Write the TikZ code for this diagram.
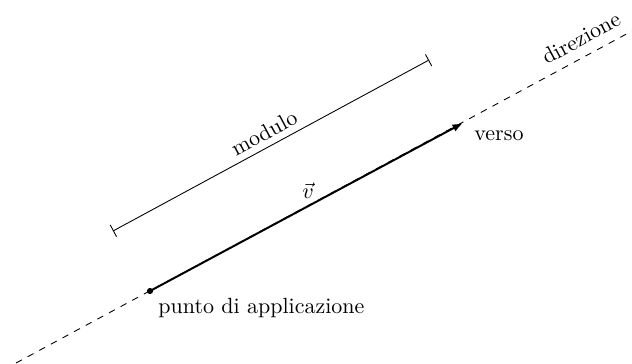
\documentclass[tikz,border=0pt]{standalone}
\usetikzlibrary{arrows.meta}
\begin{document}
\begin{tikzpicture}[x=0.4545pt,y=-0.4545pt,
  dirline/.style={dashed,line width=0.4pt},
  vecline/.style={line width=0.9pt,-{Latex[length=4.8pt,width=3.6pt]}},
  modline/.style={line width=0.4pt,{Bar[width=6pt]}-{Bar[width=6pt]}},
  lbl/.style={inner sep=0pt,font=\normalsize}]
\useasboundingbox (0,0) rectangle (632,363);
\coordinate (D1) at (16,363);
\coordinate (D2) at (632,31);
\coordinate (P) at (150,291);
\coordinate (T) at (463,123);
\coordinate (B1) at (113,231);
\coordinate (B2) at (429,60);
\draw[dirline] (D1) -- (D2);
\draw[vecline] (P) -- (T);
\fill (P) circle[radius=1.4pt];
\draw[modline] (B1) -- (B2);
\node[lbl,rotate=28.3] (mod) at (264,133) {modulo};
\node[lbl] (v) at (308,191) {$\vec{v}$};
\node[lbl,anchor=base west] (verso) at (474,140) {verso};
\node[lbl,rotate=28.3] (dir) at (581,38) {direzione};
\node[lbl,anchor=base west] (pa) at (158,313) {punto di applicazione};
\end{tikzpicture}
\end{document}
